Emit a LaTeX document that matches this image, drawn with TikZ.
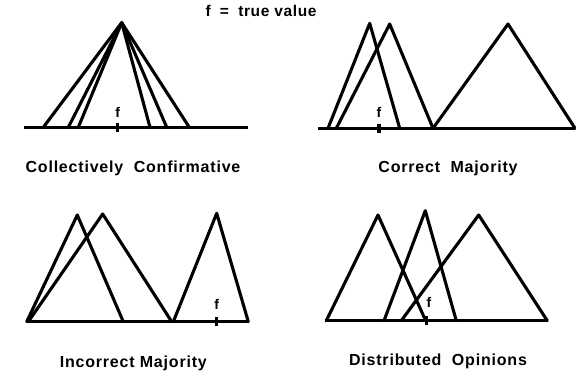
\documentclass[tikz,border=0pt]{standalone}
\usepackage{fontspec}
\setmainfont{Liberation Sans}
\begin{document}
\begin{tikzpicture}[x=1pt,y=-1pt,
  tri/.style={line width=3.1pt,line join=round,line cap=round},
  base/.style={line width=2.8pt},
  tick/.style={line width=3.1pt},
  flab/.style={font=\fontsize{14}{14}\selectfont\bfseries,inner sep=0pt},
  caption/.style={font=\fontsize{16}{17}\selectfont\bfseries\addfontfeatures{LetterSpace=5},inner sep=0pt},
  ttl/.style={font=\fontsize{15.5}{16}\selectfont\bfseries\addfontfeatures{LetterSpace=4},inner sep=0pt}]
\useasboundingbox (0,0) rectangle (576,376);
\node[ttl] (title) at (261,11) {f\hspace{0.6em}=\hspace{0.6em}true value};
% Panel 1: Collectively Confirmative
\coordinate (p1a) at (121.7,22.7);
\draw[base] (24,127.3) -- (248,127.3);
\foreach \x in {43.3,68.3,78.3,150,166.7,189.3}
  \draw[tri] (\x,127.3) -- (p1a);
\draw[tick] (117.7,123) -- (117.7,132);
\node[flab] (f1) at (117.7,112) {f};
\node[caption] (c1) at (133,168) {Collectively\ \ Confirmative};
% Panel 2: Correct Majority
\draw[base] (318,128.3) -- (575,128.3);
\draw[tri] (328,128.3) -- (369.7,23.3) -- (399.7,128.3);
\draw[tri] (336.3,128.3) -- (389.7,24) -- (433,128.3);
\draw[tri] (433,128.3) -- (508,24) -- (575,128.3);
\draw[tick] (379,124) -- (379,133);
\node[flab] (f2) at (379,112) {f};
\node[caption] (c2) at (448,168) {Correct\ \ Majority};
% Panel 3: Incorrect Majority
\draw[base] (26,321.7) -- (248.3,321.7);
\draw[tri] (26.7,321.7) -- (77.3,215) -- (123.3,321.7);
\draw[tri] (28.3,321.7) -- (102.7,214) -- (171.7,321.7);
\draw[tri] (173.3,321.7) -- (216.7,213.3) -- (248.3,321.7);
\draw[tick] (216.7,317) -- (216.7,326);
\node[flab] (f3) at (216.7,304) {f};
\node[caption] (c3) at (133.3,363.3) {Incorrect Majority};
% Panel 4: Distributed Opinions
\draw[base] (324.7,320.7) -- (548,320.7);
\draw[tri] (326.3,320.7) -- (378,215) -- (425.7,320.7);
\draw[tri] (384,320.7) -- (425.3,210.7) -- (456.3,320.7);
\draw[tri] (401.3,320.7) -- (478.7,215) -- (547.3,320.7);
\draw[tick] (426.3,316) -- (426.3,325);
\node[flab] (f4) at (429,302.5) {f};
\node[caption] (c4) at (438,361.7) {Distributed\ \ Opinions};
\end{tikzpicture}
\end{document}
